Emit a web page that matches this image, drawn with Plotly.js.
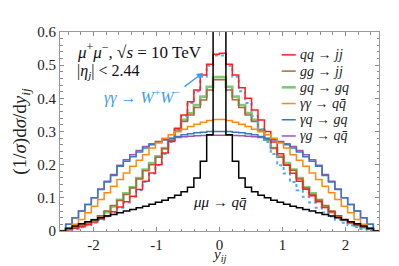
<!DOCTYPE html>
<html><head><meta charset="utf-8">
<script src="https://cdn.plot.ly/plotly-3.0.1.min.js"></script>
<style>html,body{margin:0;padding:0;background:#fff;}#chart{width:399px;height:266px;}</style>
</head><body><div id="chart"></div>
<script>
// Histogram binning: 48 bins of y_ij between -2.44 and 2.44
const yijMin = -2.44, yijMax = 2.44, nBins = 48;

// Normalised distributions (1/sigma) dsigma/dy_ij, one value per bin (left to right)
const qqjj = [0.004,0.008,0.013,0.019,0.027,0.036,0.046,0.058,0.072,0.088,0.105,0.125,0.150,0.175,0.200,0.235,0.270,0.310,0.350,0.390,0.425,0.470,0.503,0.533,
              0.536,0.503,0.470,0.432,0.400,0.365,0.335,0.300,0.268,0.233,0.198,0.174,0.150,0.126,0.106,0.088,0.071,0.058,0.046,0.035,0.026,0.018,0.012,0.005];
const ggjj = [0.006,0.012,0.018,0.025,0.034,0.046,0.060,0.077,0.092,0.110,0.130,0.157,0.182,0.200,0.222,0.248,0.273,0.305,0.330,0.350,0.372,0.395,0.425,0.456,
              0.456,0.425,0.396,0.372,0.350,0.330,0.305,0.275,0.250,0.222,0.200,0.183,0.157,0.130,0.110,0.093,0.077,0.060,0.046,0.034,0.025,0.018,0.012,0.006];
const gqgq = [0.006,0.011,0.017,0.024,0.033,0.044,0.057,0.074,0.094,0.114,0.132,0.160,0.185,0.205,0.225,0.250,0.275,0.305,0.335,0.355,0.380,0.405,0.435,0.464,
              0.464,0.435,0.405,0.380,0.356,0.335,0.305,0.275,0.250,0.225,0.205,0.185,0.160,0.132,0.114,0.094,0.074,0.057,0.044,0.033,0.024,0.017,0.011,0.006];
const aaqq = [0.008,0.020,0.035,0.055,0.075,0.095,0.115,0.135,0.155,0.175,0.195,0.213,0.230,0.250,0.265,0.280,0.290,0.299,0.307,0.315,0.322,0.328,0.333,0.336,
              0.336,0.333,0.328,0.322,0.315,0.307,0.299,0.290,0.280,0.265,0.250,0.230,0.213,0.195,0.175,0.155,0.135,0.115,0.095,0.075,0.055,0.035,0.020,0.008];
const agq = [0.020,0.040,0.060,0.080,0.100,0.125,0.148,0.167,0.195,0.210,0.224,0.238,0.250,0.260,0.268,0.275,0.280,0.285,0.290,0.293,0.296,0.298,0.300,0.300,
             0.300,0.300,0.298,0.296,0.293,0.290,0.285,0.280,0.275,0.268,0.260,0.250,0.238,0.224,0.210,0.195,0.167,0.148,0.125,0.100,0.080,0.060,0.040,0.020];
const agqq = [0.020,0.040,0.060,0.080,0.100,0.127,0.150,0.170,0.198,0.215,0.230,0.243,0.255,0.263,0.270,0.275,0.279,0.282,0.284,0.286,0.287,0.288,0.289,0.289,
              0.289,0.289,0.288,0.287,0.286,0.284,0.282,0.279,0.275,0.270,0.263,0.255,0.243,0.230,0.215,0.198,0.170,0.150,0.127,0.100,0.080,0.060,0.040,0.020];
const aaWW = [0.003,0.006,0.011,0.017,0.025,0.034,0.044,0.056,0.070,0.086,0.103,0.123,0.148,0.173,0.198,0.232,0.268,0.307,0.347,0.386,0.421,0.465,0.498,0.529,
              0.529,0.498,0.465,0.421,0.386,0.347,0.307,0.268,0.232,0.198,0.173,0.148,0.123,0.103,0.086,0.070,0.056,0.044,0.034,0.025,0.017,0.011,0.006,0.003];
const mumuqq = [0.008,0.015,0.022,0.028,0.034,0.040,0.045,0.050,0.055,0.060,0.065,0.070,0.075,0.081,0.087,0.093,0.100,0.108,0.118,0.132,0.160,0.210,0.290,0.950,
                0.950,0.290,0.210,0.160,0.132,0.118,0.108,0.100,0.093,0.087,0.081,0.075,0.070,0.065,0.060,0.055,0.050,0.045,0.040,0.034,0.028,0.022,0.015,0.008];

const xTicks = [-2,-1,0,1,2];
const yTicks = [0,0.1,0.2,0.3,0.4,0.5,0.6];

// Legend entries (in order) and colours
const legendNames = ['<i>qq</i> → <i>jj</i>', '<i>gg</i> → <i>jj</i>', '<i>gq</i> → <i>gq</i>',
                     '<i>γγ</i> → <i>q</i><i>q̄</i>', '<i>γq</i> → <i>gq</i>', '<i>γg</i> → <i>q</i><i>q̄</i>'];
const legendColors = ['#ff1f1f', '#b0653c', '#7cc978', '#ff8a12', '#3a78c2', '#9d55b5'];
const legendWidths = [1.5, 1.5, 2.6, 1.5, 1.5, 1.5];

const edges = [];
for (let i = 0; i <= nBins; i++) edges.push(yijMin + i*(yijMax - yijMin)/nBins);

function step(vals){
  const x = [-3].concat(edges, [3]);
  const y = [0].concat(vals, [0, 0]);
  return {x, y};
}

const serif = "Liberation Serif, DejaVu Serif, serif";
function tr(vals, name, color, width, dash){
  const s = step(vals);
  return {x: s.x, y: s.y, type: 'scatter', mode: 'lines', name: name,
    line: {shape: 'hv', color: color, width: width, dash: dash || 'solid'},
    showlegend: false, hoverinfo: 'skip'};
}

const data = [
  tr(gqgq, legendNames[2], legendColors[2], legendWidths[2]),
  tr(ggjj, legendNames[1], legendColors[1], legendWidths[1]),
  tr(aaWW, 'γγ → W⁺W⁻', '#55a8f5', 2, 'dot'),
  tr(qqjj, legendNames[0], legendColors[0], legendWidths[0]),
  tr(agqq, legendNames[5], legendColors[5], legendWidths[5]),
  tr(agq, legendNames[4], legendColors[4], legendWidths[4]),
  tr(aaqq, legendNames[3], legendColors[3], legendWidths[3]),
  tr(mumuqq, 'μμ → qq̄', '#000000', 1.5)
];

const axCommon = {
  showgrid: false, zeroline: false, ticks: 'inside', ticklen: 4, tickcolor: '#8a8a8a',
  showline: true, linecolor: '#9a9a9a', linewidth: 1, mirror: 'allticks',
  tickfont: {family: serif, size: 15, color: '#222'}
};

// Custom compact legend (paper coordinates)
const legTop = 0.885, legStep = 0.0815, legLineX0 = 0.695, legLineX1 = 0.739, legTextX = 0.745;
const shapes = [], annotations = [];
legendNames.forEach((n, i) => {
  const yy = legTop - i*legStep;
  shapes.push({type: 'line', xref: 'paper', yref: 'paper', x0: legLineX0, x1: legLineX1, y0: yy, y1: yy,
               line: {color: legendColors[i], width: legendWidths[i]}});
  annotations.push({xref: 'paper', yref: 'paper', x: legTextX, y: yy, xanchor: 'left', yanchor: 'middle',
                    showarrow: false, text: n, font: {family: serif, size: 14, color: '#222'}});
});

annotations.push(
  {xref: 'paper', yref: 'paper', x: 0.048, y: 0.905, xanchor: 'left', yanchor: 'middle', showarrow: false,
   text: '<i>μ</i><sup>+</sup><i>μ</i><sup>−</sup>, √<i>s</i> = 10 TeV', font: {family: serif, size: 17, color: '#111'}},
  {xref: 'paper', yref: 'paper', x: 0.048, y: 0.80, xanchor: 'left', yanchor: 'middle', showarrow: false,
   text: '|<i>η</i><sub><i>j</i></sub>| &lt; 2.44', font: {family: serif, size: 16, color: '#111'}},
  {xref: 'x', yref: 'y', x: -1.86, y: 0.405, xanchor: 'left', yanchor: 'middle', showarrow: false,
   text: '<i>γγ</i> → <i>W</i><sup>+</sup><i>W</i><sup>−</sup>', font: {family: serif, size: 16, color: '#3d9cf5'}},
  {xref: 'x', yref: 'y', x: -0.26, y: 0.477, axref: 'x', ayref: 'y', ax: -0.58, ay: 0.432, text: '',
   showarrow: true, arrowhead: 2, arrowsize: 1, arrowwidth: 1.3, arrowcolor: '#3d9cf5'},
  {xref: 'x', yref: 'y', x: 0.0, y: 0.088, xanchor: 'center', yanchor: 'middle', showarrow: false,
   text: '<i>μμ</i> → <i>q</i><i>q̄</i>', font: {family: serif, size: 15, color: '#111'}},
  // x-axis title
  {xref: 'x', yref: 'paper', x: 0.0, y: -0.12, xanchor: 'center', yanchor: 'middle', showarrow: false,
   text: '<i>y</i><sub><i>ij</i></sub>', font: {family: serif, size: 15, color: '#222'}}
);

const layout = {
  width: 399, height: 266,
  margin: {l: 59.5, r: 19.5, t: 32, b: 35},
  paper_bgcolor: '#fff', plot_bgcolor: '#fff',
  showlegend: false,
  xaxis: Object.assign({}, axCommon, {
    range: [-2.53, 2.53], tickmode: 'array', tickvals: xTicks, ticktext: xTicks.map(String),
    minor: {dtick: 0.2, tick0: 0, ticklen: 2.5, tickcolor: '#8a8a8a', ticks: 'inside'}
  }),
  yaxis: Object.assign({}, axCommon, {
    range: [0, 0.6], tickmode: 'array', tickvals: yTicks, ticktext: yTicks.map(v => v === 0 ? '0' : v.toFixed(1)),
    minor: {dtick: 0.02, tick0: 0, ticklen: 2.5, tickcolor: '#8a8a8a', ticks: 'inside'},
    title: {text: '(1/<i>σ</i>)d<i>σ</i>/d<i>y</i><sub><i>ij</i></sub>', font: {family: serif, size: 19, color: '#222'}, standoff: 5}
  }),
  shapes: shapes,
  annotations: annotations
};

Plotly.newPlot('chart', data, layout, {displayModeBar: false, staticPlot: true});
</script></body></html>
